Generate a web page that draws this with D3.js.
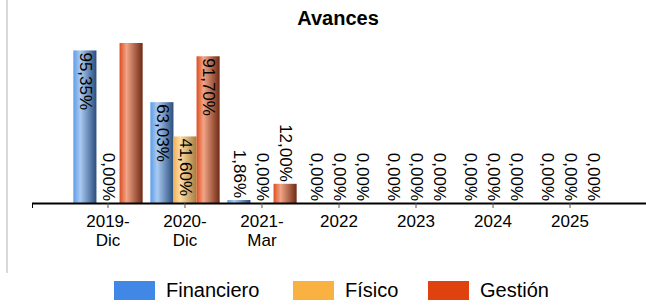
<!DOCTYPE html>
<html>
<head>
<meta charset="utf-8">
<script src="https://cdn.jsdelivr.net/npm/d3@7"></script>
<style>
  body { margin: 0; background: #ffffff; }
  svg { display: block; font-family: "Liberation Sans", Arial, sans-serif; }
</style>
</head>
<body>
<svg id="chart" width="646" height="305"></svg>
<script>
// data
const categories = ["2019-Dic", "2020-Dic", "2021-Mar", "2022", "2023", "2024", "2025"];
const seriesNames = ["Financiero", "Físico", "Gestión"];
const financiero = [95.35, 63.03, 1.86, 0, 0, 0, 0];
const fisico = [0, 41.60, 0, 0, 0, 0, 0];
const gestion = [100, 91.70, 12.00, 0, 0, 0, 0];
const colors = ["#4187e6", "#f9b241", "#e0420f"];
// left / highlight / right stops for the cylinder look
const gradStops = [
    ["#5e9de8", "#a9cbf3", "#2b4d7c"],
    ["#eeb25a", "#fbdca4", "#a87a3c"],
    ["#dc4f20", "#f2a486", "#6e2a14"]
];

const svg = d3.select("#chart");
const plot = { left: 32, right: 646, top: 43, bottom: 203 };

const fmt = v => d3.format(".2f")(v).replace(".", ",") + "%";

// gradients
const defs = svg.append("defs");
seriesNames.forEach((s, i) => {
    const g = defs.append("linearGradient")
        .attr("id", "grad" + i)
        .attr("x1", "0%").attr("x2", "100%")
        .attr("y1", "0%").attr("y2", "0%");
    g.append("stop").attr("offset", "0%").attr("stop-color", gradStops[i][0]);
    g.append("stop").attr("offset", "30%").attr("stop-color", gradStops[i][1]);
    g.append("stop").attr("offset", "100%").attr("stop-color", gradStops[i][2]);
});
defs.append("clipPath").attr("id", "plotClip")
    .append("rect")
    .attr("x", plot.left).attr("y", plot.top)
    .attr("width", plot.right - plot.left).attr("height", plot.bottom - plot.top);

// left grey frame line
svg.append("line")
    .attr("x1", 7).attr("x2", 7)
    .attr("y1", 0).attr("y2", 273)
    .attr("stroke", "#d9d9d9")
    .attr("stroke-width", 2);

// title
svg.append("text")
    .attr("x", 338).attr("y", 25)
    .attr("text-anchor", "middle")
    .style("font-size", "20px")
    .style("font-weight", "bold")
    .text("Avances");

const x0 = d3.scaleBand()
    .domain(categories)
    .range([plot.left, plot.right])
    .paddingInner(0)
    .paddingOuter(0.487);

const x1 = d3.scaleBand()
    .domain(seriesNames)
    .range([x0.bandwidth() * 0.05, x0.bandwidth() * 0.95]);

const y = d3.scaleLinear()
    .domain([0, 100])
    .range([plot.bottom, plot.top]);

const values = [financiero, fisico, gestion];
const rows = [];
categories.forEach((c, ci) => {
    seriesNames.forEach((s, si) => {
        rows.push({ cat: c, series: s, si: si, v: values[si][ci] });
    });
});

const g = svg.append("g").attr("clip-path", "url(#plotClip)");

g.selectAll("rect.bar")
    .data(rows.filter(d => d.v > 0))
    .enter().append("rect")
    .attr("class", "bar")
    .attr("x", d => x0(d.cat) + x1(d.series))
    .attr("width", x1.bandwidth())
    .attr("y", d => y(d.v))
    .attr("height", d => y(0) - y(d.v))
    .attr("fill", d => "url(#grad" + d.si + ")");

// value labels, rotated, inside the bar when they fit
const labelSize = 17;
g.selectAll("text.lbl")
    .data(rows.filter(d => d.v < 100))
    .enter().append("text")
    .attr("class", "lbl")
    .style("font-size", labelSize + "px")
    .attr("dy", "0.35em")
    .each(function (d) {
        const t = d3.select(this).text(fmt(d.v));
        const len = this.getComputedTextLength();
        const cx = x0(d.cat) + x1(d.series) + x1.bandwidth() / 2 + 1;
        const top = y(d.v);
        const inside = (y(0) - top) > len + 6;
        const ypos = inside ? top + 2 : top - 2;
        t.attr("text-anchor", inside ? "start" : "end")
            .attr("transform", `translate(${cx},${ypos}) rotate(90)`);
    });

// x axis
const axis = svg.append("g");
axis.append("line")
    .attr("x1", plot.left).attr("x2", plot.right)
    .attr("y1", plot.bottom + 0.5).attr("y2", plot.bottom + 0.5)
    .attr("stroke", "#000")
    .attr("stroke-width", 2);
axis.append("line")
    .attr("x1", plot.left + 0.5).attr("x2", plot.left + 0.5)
    .attr("y1", plot.bottom).attr("y2", plot.bottom + 5)
    .attr("stroke", "#000");
axis.selectAll("line.tick")
    .data(categories)
    .enter().append("line")
    .attr("class", "tick")
    .attr("x1", d => x0(d) + x0.bandwidth() / 2)
    .attr("x2", d => x0(d) + x0.bandwidth() / 2)
    .attr("y1", plot.bottom).attr("y2", plot.bottom + 5)
    .attr("stroke", "#555");

const tl = axis.selectAll("text.tl")
    .data(categories)
    .enter().append("text")
    .attr("class", "tl")
    .attr("text-anchor", "middle")
    .style("font-size", "17px");
tl.each(function (d) {
    const cx = x0(d) + x0.bandwidth() / 2;
    const parts = d.includes("-") ? [d.split("-")[0] + "-", d.split("-")[1]] : [d];
    parts.forEach((p, i) => {
        d3.select(this).append("tspan")
            .attr("x", cx)
            .attr("y", 227 + i * 19)
            .text(p);
    });
});

// legend
const legendX = [114, 293, 428];
const leg = svg.append("g");
seriesNames.forEach((s, i) => {
    leg.append("rect")
        .attr("x", legendX[i]).attr("y", 281)
        .attr("width", 41).attr("height", 19)
        .attr("fill", colors[i]);
    leg.append("text")
        .attr("x", legendX[i] + 52).attr("y", 297)
        .style("font-size", "20px")
        .text(s);
});
</script>
</body>
</html>
